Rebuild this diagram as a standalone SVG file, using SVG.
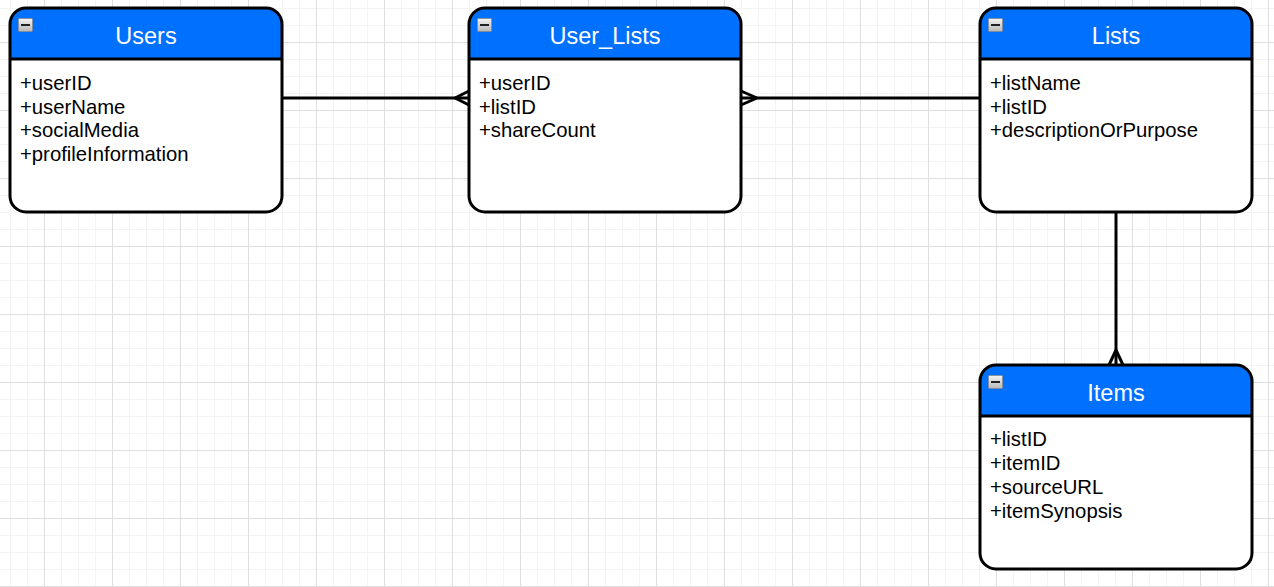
<svg xmlns="http://www.w3.org/2000/svg" width="1274" height="587" viewBox="0 0 1274 587">
<defs>
<pattern id="minor" width="17" height="17" patternUnits="userSpaceOnUse" x="10" y="8">
<path d="M0 0.5H17M0.5 0V17" fill="none" stroke="#f3f3f3" stroke-width="1"/>
</pattern>
<pattern id="major" width="68" height="68" patternUnits="userSpaceOnUse" x="44" y="42">
<path d="M0 0.5H68M0.5 0V68" fill="none" stroke="#dedede" stroke-width="1"/>
</pattern>
<linearGradient id="btn" x1="0" y1="0" x2="0" y2="1">
<stop offset="0" stop-color="#f4f4f4"/>
<stop offset="1" stop-color="#b8b8b8"/>
</linearGradient>
<clipPath id="c1"><rect x="10" y="8" width="272" height="204" rx="16"/></clipPath>
<clipPath id="c2"><rect x="469" y="8" width="272" height="204" rx="16"/></clipPath>
<clipPath id="c3"><rect x="980" y="8" width="272" height="204" rx="16"/></clipPath>
<clipPath id="c4"><rect x="980" y="365" width="272" height="204" rx="16"/></clipPath>
</defs>
<style>
.body{fill:#ffffff;}
.head{fill:#0070ff;}
.frame{fill:none;stroke:#000;stroke-width:3;}
.sep{stroke:#000;stroke-width:3;}
.title{font-family:"Liberation Sans",Arial,sans-serif;font-size:23.5px;fill:#ffffff;text-anchor:middle;}
.attr{font-family:"Liberation Sans",Arial,sans-serif;font-size:20.3px;fill:#000;}
.icon{fill:url(#btn);stroke:#8a8a8a;stroke-width:0.8;}
.dash{stroke:#222;stroke-width:2;}
.edge{fill:none;stroke:#000;stroke-width:3;}
</style>
<rect width="1274" height="587" fill="#ffffff"/>
<rect width="1274" height="587" fill="url(#minor)"/>
<rect width="1274" height="587" fill="url(#major)"/>

<g id="connectors">
<path class="edge" d="M282 98H469"/>
<path class="edge" d="M455 98L469 91M455 98L469 105"/>
<path class="edge" d="M741 98H980"/>
<path class="edge" d="M757 98L741 91M757 98L741 105"/>
<path class="edge" d="M1116 212V365"/>
<path class="edge" d="M1116 350L1109 365M1116 350L1123 365"/>
</g>

<g id="users">
<rect class="body" x="10" y="8" width="272" height="204" rx="16"/>
<rect class="head" x="10" y="8" width="272" height="51" clip-path="url(#c1)"/>
<line class="sep" x1="10" y1="59" x2="282" y2="59"/>
<rect class="frame" x="10" y="8" width="272" height="204" rx="16"/>
<rect class="icon" x="18.5" y="18.5" width="14" height="13" rx="1"/>
<line class="dash" x1="21" y1="25" x2="30" y2="25"/>
<text class="title" x="146" y="44">Users</text>
<text class="attr" x="20" y="90">+userID</text>
<text class="attr" x="20" y="113.5">+userName</text>
<text class="attr" x="20" y="137">+socialMedia</text>
<text class="attr" x="20" y="160.5">+profileInformation</text>
</g>

<g id="user_lists">
<rect class="body" x="469" y="8" width="272" height="204" rx="16"/>
<rect class="head" x="469" y="8" width="272" height="51" clip-path="url(#c2)"/>
<line class="sep" x1="469" y1="59" x2="741" y2="59"/>
<rect class="frame" x="469" y="8" width="272" height="204" rx="16"/>
<rect class="icon" x="477.5" y="18.5" width="14" height="13" rx="1"/>
<line class="dash" x1="480" y1="25" x2="489" y2="25"/>
<text class="title" x="605" y="44">User_Lists</text>
<text class="attr" x="479" y="90">+userID</text>
<text class="attr" x="479" y="113.5">+listID</text>
<text class="attr" x="479" y="137">+shareCount</text>
</g>

<g id="lists">
<rect class="body" x="980" y="8" width="272" height="204" rx="16"/>
<rect class="head" x="980" y="8" width="272" height="51" clip-path="url(#c3)"/>
<line class="sep" x1="980" y1="59" x2="1252" y2="59"/>
<rect class="frame" x="980" y="8" width="272" height="204" rx="16"/>
<rect class="icon" x="988.5" y="18.5" width="14" height="13" rx="1"/>
<line class="dash" x1="991" y1="25" x2="1000" y2="25"/>
<text class="title" x="1116" y="44">Lists</text>
<text class="attr" x="990" y="90">+listName</text>
<text class="attr" x="990" y="113.5">+listID</text>
<text class="attr" x="990" y="137">+descriptionOrPurpose</text>
</g>

<g id="items">
<rect class="body" x="980" y="365" width="272" height="204" rx="16"/>
<rect class="head" x="980" y="365" width="272" height="51" clip-path="url(#c4)"/>
<line class="sep" x1="980" y1="416" x2="1252" y2="416"/>
<rect class="frame" x="980" y="365" width="272" height="204" rx="16"/>
<rect class="icon" x="988.5" y="375.5" width="14" height="13" rx="1"/>
<line class="dash" x1="991" y1="382" x2="1000" y2="382"/>
<text class="title" x="1116" y="401">Items</text>
<text class="attr" x="990" y="446">+listID</text>
<text class="attr" x="990" y="470">+itemID</text>
<text class="attr" x="990" y="494">+sourceURL</text>
<text class="attr" x="990" y="518">+itemSynopsis</text>
</g>
</svg>
